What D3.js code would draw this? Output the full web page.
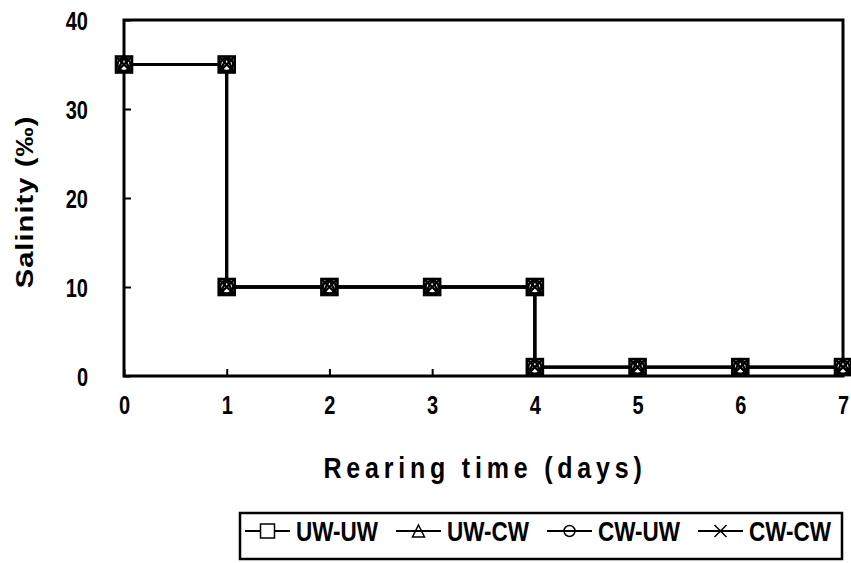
<!DOCTYPE html>
<html>
<head>
<meta charset="utf-8">
<script src="https://cdn.jsdelivr.net/npm/d3@7"></script>
<style>
  body { margin: 0; background: #fff; }
  svg { display: block; font-family: "Liberation Sans", Arial, sans-serif; font-weight: bold; }
</style>
</head>
<body>
<svg id="chart" width="851" height="563"></svg>
<script>
// rearing time (days) for each point, and salinity per series
var days = [0, 1, 1, 2, 3, 4, 4, 5, 6, 7];
var uwUw = [35, 35, 10, 10, 10, 10, 1, 1, 1, 1];
var uwCw = [35, 35, 10, 10, 10, 10, 1, 1, 1, 1];
var cwUw = [35, 35, 10, 10, 10, 10, 1, 1, 1, 1];
var cwCw = [35, 35, 10, 10, 10, 10, 1, 1, 1, 1];
var seriesNames = ["UW-UW", "UW-CW", "CW-UW", "CW-CW"];
var xTicks = [0, 1, 2, 3, 4, 5, 6, 7];
var yTicks = [0, 10, 20, 30, 40];

var series = [
  { name: seriesNames[0], values: uwUw, symbol: "square" },
  { name: seriesNames[1], values: uwCw, symbol: "triangle" },
  { name: seriesNames[2], values: cwUw, symbol: "circle" },
  { name: seriesNames[3], values: cwCw, symbol: "cross" }
];

var svg = d3.select("#chart");
var plotLeft = 124, plotRight = 843, plotTop = 20, plotBottom = 376;
var stretch = 1.27; // text in the figure is drawn a bit taller than wide

var x = d3.scaleLinear().domain([0, 7]).range([plotLeft, plotRight]);
var y = d3.scaleLinear().domain([0, 40]).range([plotBottom, plotTop]);

// markers, drawn at the origin
function drawMarker(sel, symbol, s, sw) {
  var h = s / 2;
  if (symbol == "square") {
    sel.append("rect").attr("x", -h).attr("y", -h).attr("width", s).attr("height", s)
      .attr("fill", "#fff").attr("stroke", "#000").attr("stroke-width", sw);
  } else if (symbol == "triangle") {
    sel.append("path").attr("d", "M0," + (-h + 1) + "L" + (h - 1) + "," + (h - 1) + "L" + (-h + 1) + "," + (h - 1) + "Z")
      .attr("fill", "none").attr("stroke", "#000").attr("stroke-width", sw);
  } else if (symbol == "circle") {
    sel.append("circle").attr("r", h - 1.5)
      .attr("fill", "none").attr("stroke", "#000").attr("stroke-width", sw);
  } else {
    sel.append("path").attr("d", "M" + (-h + 1) + "," + (-h + 1) + "L" + (h - 1) + "," + (h - 1) + "M" + (h - 1) + "," + (-h + 1) + "L" + (-h + 1) + "," + (h - 1))
      .attr("fill", "none").attr("stroke", "#000").attr("stroke-width", sw);
  }
}

function styleAxis(g) {
  g.select(".domain").remove();
  g.selectAll("line").attr("stroke-width", 2);
  g.selectAll("text").attr("font-size", 20).attr("font-weight", "bold").attr("fill", "#000")
    .attr("font-family", "Liberation Sans, Arial, sans-serif");
}

// axes with inward ticks
svg.append("g")
    .attr("transform", "translate(" + plotLeft + ",0)")
    .call(d3.axisLeft(y).tickValues(yTicks).tickFormat(d3.format("d")).tickSize(-7).tickPadding(36))
    .call(styleAxis)
    .call(function(g) {
      g.selectAll("text").attr("dy", "0.36em").attr("transform", "scale(1," + stretch + ")");
    });

svg.append("g")
    .attr("transform", "translate(0," + plotBottom + ")")
    .call(d3.axisBottom(x).tickValues(xTicks).tickFormat(d3.format("d")).tickSize(-7))
    .call(styleAxis)
    .call(function(g) {
      g.selectAll("text").attr("y", 38 / stretch).attr("dy", 0)
        .attr("transform", "scale(1," + stretch + ")");
    });

// plot border
svg.append("rect")
    .attr("x", plotLeft).attr("y", plotTop)
    .attr("width", plotRight - plotLeft).attr("height", plotBottom - plotTop)
    .attr("fill", "none").attr("stroke", "#000").attr("stroke-width", 3);

var line = d3.line()
    .x(function(d, i) { return x(days[i]); })
    .y(function(d) { return y(d); });

series.forEach(function(s) {
  svg.append("path")
      .datum(s.values)
      .attr("d", line)
      .attr("fill", "none")
      .attr("stroke", "#000")
      .attr("stroke-width", 2.8);
});

series.forEach(function(s) {
  s.values.forEach(function(v, i) {
    var g = svg.append("g").attr("transform", "translate(" + x(days[i]) + "," + y(v) + ")");
    drawMarker(g, s.symbol, 16, s.symbol == "square" ? 2.6 : 2.3);
  });
});

// axis titles
svg.append("text")
    .attr("transform", "translate(33,202) rotate(-90) scale(" + stretch + ",1)")
    .attr("text-anchor", "middle")
    .attr("font-size", 23)
    .attr("letter-spacing", 0.8)
    .text("Salinity (‰)");

svg.append("text")
    .attr("transform", "translate(485,478) scale(1,1.15)")
    .attr("text-anchor", "middle")
    .attr("font-size", 25)
    .attr("letter-spacing", 4.8)
    .text("Rearing time (days)");

// legend
var legend = svg.append("g");
legend.append("rect")
    .attr("x", 240).attr("y", 513).attr("width", 602).attr("height", 46)
    .attr("fill", "none").attr("stroke", "#000").attr("stroke-width", 2.5);

var textX = [296, 447, 598, 749];
series.forEach(function(s, i) {
  var g = legend.append("g").attr("transform", "translate(" + (textX[i] - 51) + ",531)");
  g.append("line").attr("x1", 0).attr("x2", 45).attr("stroke", "#000").attr("stroke-width", 2.2);
  var m = g.append("g").attr("transform", "translate(22.5,0)");
  drawMarker(m, s.symbol, 14, 1.5);
  g.append("text")
      .attr("transform", "translate(51,0) scale(1,1.22)")
      .attr("y", 8)
      .attr("font-size", 22.5)
      .text(s.name);
});
</script>
</body>
</html>
